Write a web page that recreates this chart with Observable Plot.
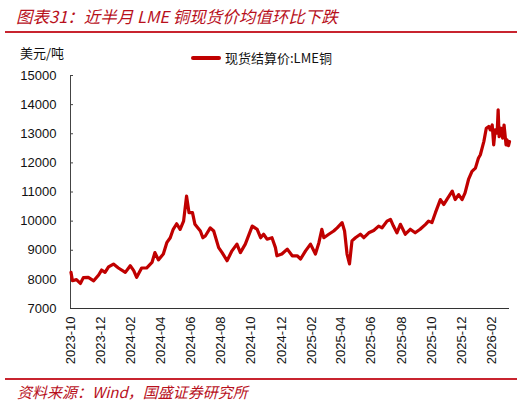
<!DOCTYPE html>
<html>
<head>
<meta charset="utf-8">
<script src="https://cdn.jsdelivr.net/npm/d3@7"></script>
<script src="https://cdn.jsdelivr.net/npm/@observablehq/plot@0.6"></script>
<style>
  body { margin: 0; background: #fff; }
  #wrap { position: relative; width: 531px; height: 404px; overflow: hidden; font-family: "Liberation Sans", Arial, sans-serif; }
  .title { position: absolute; left: 16px; top: 4px; font: italic 16.5px "Noto Sans CJK SC", sans-serif; color: #b8101c; white-space: nowrap; }
  .rule { position: absolute; left: 5px; width: 512px; height: 2px; background: #c8242f; }
  .unit { position: absolute; left: 20px; top: 43px; font: 13px "Noto Sans CJK SC", sans-serif; color: #111; }
  .legend { position: absolute; left: 191px; top: 48px; font: 13px "Noto Sans CJK SC", sans-serif; color: #111; display: flex; align-items: center; white-space: nowrap; }
  .legend i { display: inline-block; width: 30px; height: 4px; background: #c00000; margin-right: 4px; border-radius: 2px; }
  .source { position: absolute; left: 17px; top: 381px; font: italic 15px "Noto Sans CJK SC", sans-serif; color: #b8101c; white-space: nowrap; }
  #chart { position: absolute; left: 0; top: 60px; }
</style>
</head>
<body>
<div id="wrap">
  <div class="title">图表31：近半月 LME 铜现货价均值环比下跌</div>
  <div class="rule" style="top:31px"></div>
  <div class="unit">美元/吨</div>
  <div class="legend"><i></i>现货结算价:LME铜</div>
  <div id="chart"></div>
  <div class="rule" style="top:378px"></div>
  <div class="source">资料来源：Wind，国盛证券研究所</div>
</div>
<script>
// LME copper spot settlement, USD/t
var dates = [
  "2023-10-02","2023-10-05","2023-10-13","2023-10-21","2023-10-27","2023-11-06","2023-11-17","2023-11-27",
  "2023-12-03","2023-12-10","2023-12-17","2023-12-27","2024-01-06","2024-01-20","2024-01-30","2024-02-06",
  "2024-02-12","2024-02-22","2024-03-03","2024-03-14","2024-03-20","2024-03-27","2024-04-06","2024-04-13",
  "2024-04-20","2024-04-26","2024-05-03","2024-05-10","2024-05-17","2024-05-23","2024-05-28","2024-06-04",
  "2024-06-09","2024-06-20","2024-06-25","2024-06-30","2024-07-10","2024-07-17","2024-07-27","2024-08-03",
  "2024-08-13","2024-08-23","2024-09-02","2024-09-09","2024-09-19","2024-10-03","2024-10-13","2024-10-20",
  "2024-10-26","2024-11-02","2024-11-12","2024-11-19","2024-11-22","2024-12-02","2024-12-13","2024-12-23",
  "2025-01-02","2025-01-09","2025-01-19","2025-01-29","2025-02-08","2025-02-15","2025-02-21","2025-02-25",
  "2025-03-07","2025-03-17","2025-03-24","2025-04-03","2025-04-08","2025-04-13","2025-04-18","2025-04-23",
  "2025-04-30","2025-05-10","2025-05-17","2025-05-27","2025-06-06","2025-06-16","2025-06-23","2025-07-03",
  "2025-07-10","2025-07-16","2025-07-23","2025-07-30","2025-08-09","2025-08-19","2025-08-29","2025-09-08",
  "2025-09-19","2025-09-25","2025-10-02","2025-10-09","2025-10-19","2025-10-26","2025-11-01","2025-11-12",
  "2025-11-18","2025-11-25","2025-12-02","2025-12-08","2025-12-15","2025-12-22","2025-12-29","2026-01-04",
  "2026-01-08","2026-01-15","2026-01-20","2026-01-25","2026-01-28","2026-02-01","2026-02-04","2026-02-07",
  "2026-02-11","2026-02-13","2026-02-15","2026-02-19","2026-02-22","2026-02-25","2026-03-01","2026-03-03",
  "2026-03-06","2026-03-08"
];
var prices = [
  8240,7955,7990,7860,8060,8070,7950,8150,
  8320,8240,8430,8525,8390,8240,8470,8300,
  8070,8390,8390,8580,8920,8670,8870,9260,
  9430,9720,9910,9720,10000,10860,10290,10290,
  9890,9660,9430,9490,9770,9660,9090,8920,
  8640,8980,9210,8920,9210,9830,9720,9430,
  9550,9380,9430,9090,8810,8870,9040,8810,
  8810,8700,8980,9210,8870,9260,9720,9430,
  9550,9660,9770,9950,9660,8870,8530,9320,
  9430,9550,9430,9600,9680,9830,9770,10000,
  10060,9830,9600,9890,9550,9720,9600,9720,
  9890,10000,9950,10290,10740,10570,10740,11030,
  10740,10910,10740,10970,11430,11710,11820,12160,
  12280,12730,13190,13250,13130,13300,12620,13130,
  13020,13820,12900,13190,12850,13300,12620,12790,
  12590,12730
];
var xTickLabels = ["2023-10","2023-12","2024-02","2024-04","2024-06","2024-08","2024-10",
  "2024-12","2025-02","2025-04","2025-06","2025-08","2025-10","2025-12","2026-02"];
var yTicks = [7000,8000,9000,10000,11000,12000,13000,14000,15000];

var data = dates.map((d, i) => ({date: new Date(d), price: prices[i]}));
var xStart = new Date("2023-10-01");
var xEnd = new Date("2026-03-08");

var plot = Plot.plot({
  width: 531,
  height: 320,
  marginTop: 15,
  marginBottom: 72,
  marginLeft: 70,
  marginRight: 22,
  x: {type: "utc", domain: [xStart, xEnd]},
  y: {domain: [7000, 15000]},
  style: {
    fontFamily: "Liberation Sans, Arial, sans-serif",
    fontSize: "13px",
    color: "#111",
    background: "transparent",
  },
  marks: [
    Plot.axisY({ticks: yTicks, tickFormat: (d) => String(d), tickSize: -3, tickPadding: 17, label: null, stroke: "#444"}),
    Plot.axisX({
      ticks: xTickLabels.map((s) => new Date(s + "-01")),
      tickFormat: d3.utcFormat("%Y-%m"),
      tickRotate: -90,
      tickSize: 0,
      tickPadding: 8,
      label: null,
    }),
    Plot.ruleX([xStart], {stroke: "#444"}),
    Plot.ruleY([7000], {stroke: "#333"}),
    Plot.line(data, {x: "date", y: "price", stroke: "#c00000", strokeWidth: 3.2, curve: "linear"}),
  ],
});
document.getElementById("chart").append(plot);
</script>
</body>
</html>
